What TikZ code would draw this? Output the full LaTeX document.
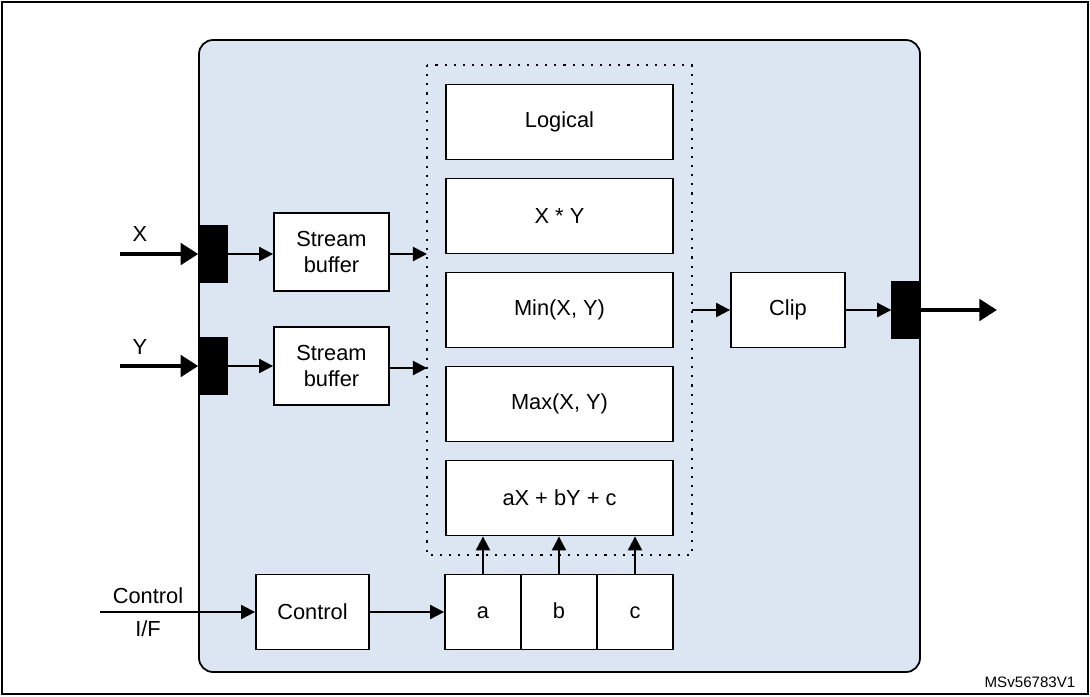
\documentclass[tikz,border=0pt]{standalone}
\usepackage{fontspec}
\setmainfont{Liberation Sans}
\usetikzlibrary{positioning,arrows.meta}
\definecolor{panel}{HTML}{DCE6F2}
\begin{document}
\begin{tikzpicture}
        [
          x=0.01cm, y=-0.01cm,
          font=\fontsize{6.2}{7.4}\selectfont,
          blk/.style={draw=black,fill=white,line width=0.5pt,inner sep=0pt,align=center},
          port/.style={draw=black,fill=black,inner sep=0pt,minimum width=0.28cm,minimum height=0.57cm},
          fat/.style={line width=1.4pt,-{Triangle[length=5pt,width=6pt]}},
          thin/.style={line width=0.6pt,-{Triangle[length=4pt,width=4pt]}}
        ]
        \useasboundingbox (0,0) rectangle (1090,696);
        \draw[line width=0.6pt] (2,2) rectangle (1088,694);
        % panel
        \draw[fill=panel,rounded corners=4pt,line width=0.5pt] (199,40) rectangle (920,672);
        \draw[dotted,line width=0.6pt] (427,65) rectangle (692,555);
        % operations
        \foreach \n/\y/\t in {log/122/Logical,mul/216/X * Y,min/310/{Min(X, Y)},max/404/{Max(X, Y)},lin/498/aX + bY + c} {
            \node[blk,minimum width=2.27cm,minimum height=0.75cm] (\n) at (559.5,\y) {\t};
        }
        % inputs
        \node[port] (px) at (213,254) {};
        \node[port] (py) at (213,366) {};
        \node[blk,minimum width=1.15cm,minimum height=0.78cm] (sx) at (331.5,252) {Stream\\buffer};
        \node[blk,minimum width=1.15cm,minimum height=0.78cm] (sy) at (331.5,366) {Stream\\buffer};
        \coordinate (ix) at (120,254);
        \coordinate (iy) at (120,366);
        \node (lx) at (140,234) {X};
        \node (ly) at (140,347) {Y};
        \draw[fat] (ix) -- (px.west);
        \draw[fat] (iy) -- (py.west);
        \draw[thin] (px.east) -- (px.east -| sx.west);
        \draw[thin] (py.east) -- (py.east -| sy.west);
        \coordinate (dx) at (427,254);
        \coordinate (dy) at (427,368);
        \draw[thin] (sx.east |- dx) -- (dx);
        \draw[thin] (sy.east |- dy) -- (dy);
        % output
        \node[blk,minimum width=1.14cm,minimum height=0.75cm] (clip) at (788,310) {Clip};
        \node[port] (po) at (906,310) {};
        \coordinate (dout) at (692,310);
        \coordinate (out) at (997,310);
        \draw[thin] (dout) -- (clip.west);
        \draw[thin] (clip.east) -- (po.west);
        \draw[fat] (po.east) -- (out);
        % control
        \node[blk,minimum width=1.13cm,minimum height=0.75cm] (ctl) at (312.5,612) {Control};
        \foreach \n/\x in {a/483,b/559,c/635} {
            \node[blk,minimum width=0.76cm,minimum height=0.75cm,text height=1.6mm,text depth=0.4mm] (\n) at (\x,612) {\n};
            \draw[thin] (\n.north) -- (\n.north |- lin.south);
        }
        \coordinate (ci) at (100,612);
        \node[align=center] (lc) at (148,612) {Control\\[2pt]I/F};
        \draw[thin] (ci) -- (ctl.west);
        \draw[thin] (ctl.east) -- (a.west);
        \node[font=\fontsize{4.3}{5}\selectfont] (id) at (1030,682) {MSv56783V1};
\end{tikzpicture}
\end{document}
